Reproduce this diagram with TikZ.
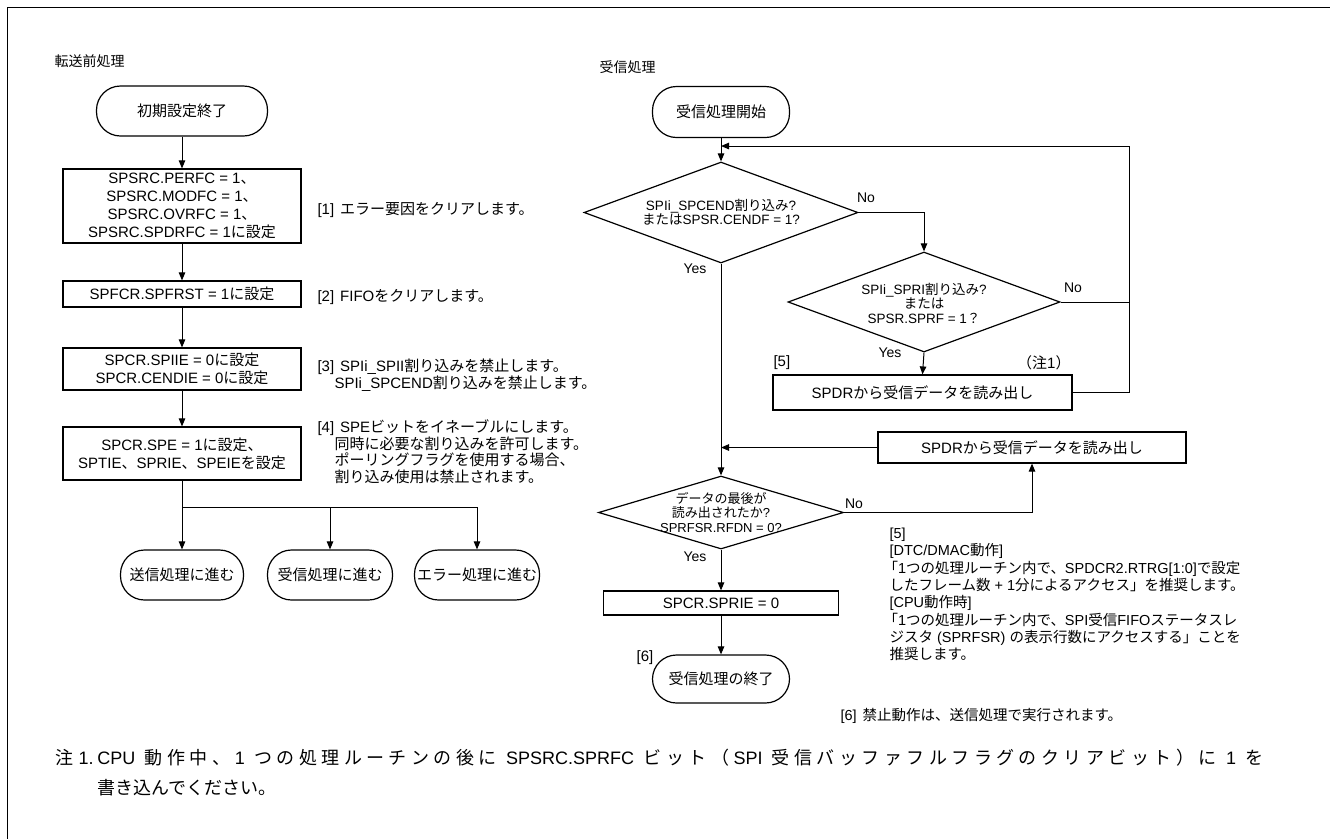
\documentclass[tikz,border=0pt]{standalone}
\usepackage{fontspec}
\setmainfont{Liberation Sans}
\newfontfamily\jfont{Noto Sans CJK JP}
\newfontfamily\lfont{Liberation Sans}
\usetikzlibrary{arrows.meta,shapes.geometric,calc}
\XeTeXinterchartokenstate=1
\newXeTeXintercharclass\jclass
\newcount\jcnt
\jcnt="3000
\loop\ifnum\jcnt<"A000 \XeTeXcharclass\jcnt=\jclass\relax\advance\jcnt by 1 \repeat
\jcnt="FF00
\loop\ifnum\jcnt<"FFF0 \XeTeXcharclass\jcnt=\jclass\relax\advance\jcnt by 1 \repeat
\XeTeXinterchartoks 0 \jclass = {\jfont}
\XeTeXinterchartoks 4095 \jclass = {\jfont}
\XeTeXinterchartoks \jclass 0 = {\lfont}
\XeTeXinterchartoks \jclass 4095 = {\lfont}
\newcommand\fsz[2]{\fontsize{#1}{#2}\selectfont}
\newcommand\jstretch{%
  \XeTeXinterchartoks\jclass\jclass={\hskip 0pt plus 1pt}%
  \XeTeXinterchartoks 0 \jclass={\hskip 0pt plus 1pt\jfont}%
  \XeTeXinterchartoks \jclass 0={\lfont\hskip 0pt plus 1pt}%
  \spaceskip=0.278em plus 1pt\relax}
\begin{document}
\begin{tikzpicture}[x=1pt,y=-1pt,line width=1pt,
 arr/.style={-{Triangle[length=8pt,width=6.5pt]}},
 box/.style={draw,line width=1.2pt,rectangle,align=center,inner sep=0pt,font=\fsz{15}{18}},
 term/.style={draw,line width=1.2pt,rectangle,rounded corners=24pt,align=center,inner sep=0pt,font=\fsz{15}{18}},
 dia/.style={draw,line width=1.2pt,diamond,inner sep=0pt},
 dtxt/.style={align=center,inner sep=0pt,font=\fsz{13.5}{14.5}},
 yn/.style={inner sep=0pt,font=\fsz{14}{16}},
 ann/.style={align=left,inner sep=0pt,anchor=west,font=\fsz{15}{16.5}},
 hdr/.style={inner sep=0pt,anchor=west,font=\fsz{14}{16}},
]
\useasboundingbox (0,0) rectangle (1330,839);
\draw[line width=1pt] (1330,7) -- (7,7) -- (7,839);

% headers
\node[hdr] (h1) at (54,61) {転送前処理};
\node[hdr] (h2) at (599,67) {受信処理};

% left column
\node[term,minimum width=171pt,minimum height=50pt] (t0) at (182,111) {初期設定終了};
\node[box,minimum width=238pt,minimum height=74pt] (b1) at (182,206) {SPSRC.PERFC = 1、\\SPSRC.MODFC = 1、\\SPSRC.OVRFC = 1、\\SPSRC.SPDRFC = 1に設定};
\node[box,minimum width=238pt,minimum height=26pt] (b2) at (182,294) {SPFCR.SPFRST = 1に設定};
\node[box,minimum width=238pt,minimum height=42pt] (b3) at (182,369) {SPCR.SPIIE = 0に設定\\SPCR.CENDIE = 0に設定};
\node[box,minimum width=238pt,minimum height=53pt] (b4) at (182,453.5) {SPCR.SPE = 1に設定、\\SPTIE、SPRIE、SPEIEを設定};
\node[term,minimum width=123pt,minimum height=50pt] (t2) at (182,575) {送信処理に進む};
\node[term,minimum width=125pt,minimum height=50pt] (t3) at (330,575) {受信処理に進む};
\node[term,minimum width=125pt,minimum height=50pt] (t4) at (477,575) {エラー処理に進む};

\node[ann] (a1) at (317,210) {[1]\hspace{6pt}エラー要因をクリアします。};
\node[ann] (a2) at (317,297) {[2]\hspace{6pt}FIFOをクリアします。};
\node[ann] (a3) at (317,375) {[3]\hspace{6pt}SPIi\_SPII割り込みを禁止します。\\\hspace*{17pt}SPIi\_SPCEND割り込みを禁止します。};
\node[ann] (a4) at (317,451.75) {[4]\hspace{6pt}SPEビットをイネーブルにします。\\\hspace*{17pt}同時に必要な割り込みを許可します。\\\hspace*{17pt}ポーリングフラグを使用する場合、\\\hspace*{17pt}割り込み使用は禁止されます。};

\draw[arr] (t0) -- (b1);
\draw[arr] (b1) -- (b2);
\draw[arr] (b2) -- (b3);
\draw[arr] (b3) -- (b4);
\coordinate (br) at (182,507);
\draw (b4.south) -- (br);
\draw[arr] (br) -- (t2.north);
\draw[arr] (br) -| (t3.north);
\draw[arr] (br) -| (t4.north);

% right column
\node[term,minimum width=137pt,minimum height=51pt] (t1) at (721,112) {受信処理開始};
\node[dia,minimum width=274pt,minimum height=101pt] (d1) at (721,212.5) {};
\node[dtxt] (d1t) at (721,212) {SPIi\_SPCEND割り込み?\\またはSPSR.CENDF = 1?};
\node[dia,minimum width=272pt,minimum height=100pt] (d2) at (924,302) {};
\node[dtxt] (d2t) at (924,303) {SPIi\_SPRI割り込み?\\または\\SPSR.SPRF = 1？};
\node[box,minimum width=299pt,minimum height=35pt] (b5) at (922.5,392.5) {SPDRから受信データを読み出し};
\node[box,minimum width=308pt,minimum height=31pt] (b6) at (1032,447.5) {SPDRから受信データを読み出し};
\node[dia,minimum width=245pt,minimum height=73pt] (d3) at (721,512.5) {};
\node[dtxt,font=\fsz{13}{14.5}] (d3t) at (721,512.5) {データの最後が\\読み出されたか?\\SPRFSR.RFDN = 0?};
\node[box,minimum width=235pt,minimum height=24pt] (b7) at (721,603) {SPCR.SPRIE = 0};
\node[term,minimum width=137pt,minimum height=48pt] (t5) at (721,679) {受信処理の終了};

\node[yn] (no1) at (866,198) {No};
\node[yn] (yes1) at (695,269) {Yes};
\node[yn] (no2) at (1073,288) {No};
\node[yn] (yes2) at (890,353) {Yes};
\node[yn] (no3) at (854,504) {No};
\node[yn] (yes3) at (695,557) {Yes};
\node[yn,anchor=west,font=\fsz{15}{17}] (n5) at (773,363) {[5]};
\node[yn,anchor=east,font=\fsz{15}{17}] (c1) at (1071,363) {（注1）};
\node[yn,font=\fsz{15}{17}] (n6) at (645,658) {[6]};

\coordinate (lt) at (1129,146);
\coordinate (li) at (721,146);
\coordinate (mi) at (721,447.5);
\draw[arr] (t1) -- (d1.north);
\draw[arr] (d1.east) -| (d2.north);
\draw[arr] (d2.south) -- (b5.north);
\draw[arr] (b5.east) -| (lt) -- (li);
\draw (d2.east) -- (d2.east -| lt);
\draw[arr] (d1.south) -- (d3.north);
\draw[arr] (b6.west) -- (mi);
\draw[arr] (d3.east) -| (b6.south);
\draw[arr] (d3.south) -- (b7.north);
\draw[arr] (b7.south) -- (t5.north);

\node[ann,font=\fsz{14.5}{17.3}] (a5) at (889,594.5) {[5]\\{[}DTC/DMAC動作{]}\\\hspace*{-6pt}「1つの処理ルーチン内で、SPDCR2.RTRG[1:0]で設定\\したフレーム数 + 1分によるアクセス」を推奨します。\\{[}CPU動作時{]}\\\hspace*{-6pt}「1つの処理ルーチン内で、SPI受信FIFOステータスレ\\ジスタ (SPRFSR) の表示行数にアクセスする」ことを\\推奨します。};
\node[ann,font=\fsz{14.5}{17}] (a6) at (840,716) {[6]\hspace{6pt}禁止動作は、送信処理で実行されます。};

% bottom note (drawn last: it changes the spacing rules)
\node[ann,font=\fsz{18}{30}] (nt) at (55,773) {\jstretch\makebox[42pt][l]{注 1.}\hbox to 1166pt{CPU 動作中、1 つの処理ルーチンの後に SPSRC.SPRFC ビット（SPI 受信バッファフルフラグのクリアビット）に 1 を}\\\hspace*{42pt}書き込んでください。};
\end{tikzpicture}
\end{document}
